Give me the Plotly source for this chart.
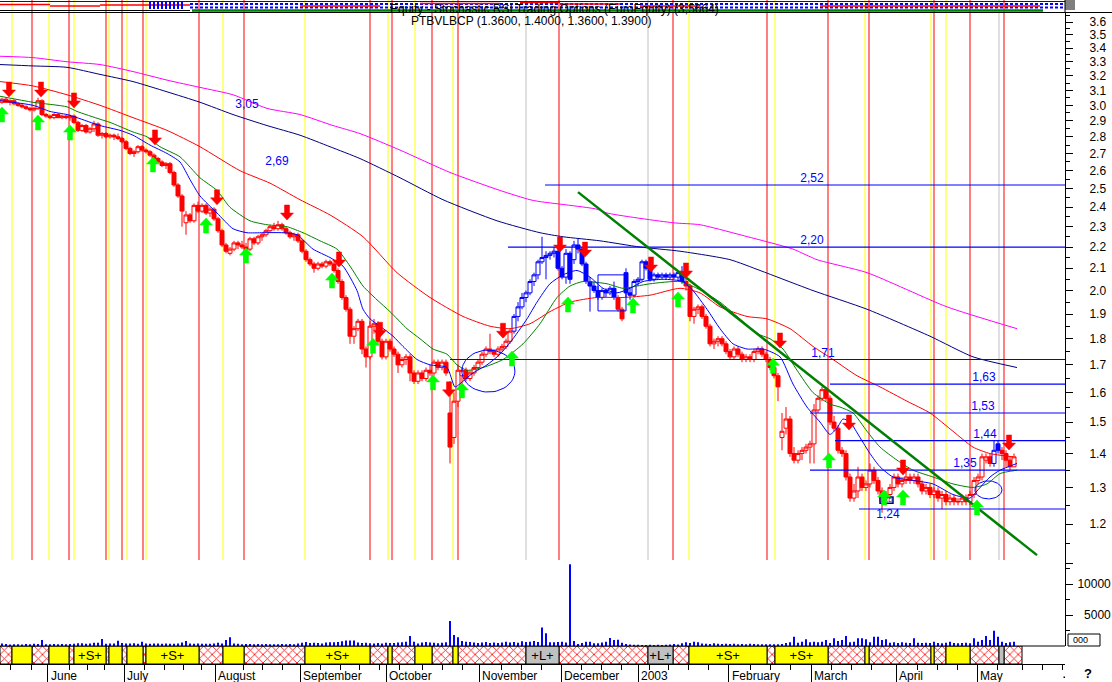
import math
import plotly.graph_objects as go

# ---------------------------------------------------------------- data
# daily candles, PTBVLBCP, mid-May 2002 .. mid-May 2003 (index = trading day)
open_ = [
    3.02, 3.04, 3.02, 3.03, 3.01, 3.00, 2.99, 2.98, 2.97, 2.98,
    3.03, 2.94, 2.93, 2.92, 2.94, 2.92, 2.93, 2.92, 2.93, 2.89,
    2.84, 2.87, 2.83, 2.85, 2.88, 2.81, 2.82, 2.80, 2.81, 2.80,
    2.79, 2.77, 2.73, 2.70, 2.71, 2.74, 2.72, 2.71, 2.69, 2.67,
    2.65, 2.63, 2.64, 2.59, 2.52, 2.46, 2.32, 2.36, 2.33, 2.41,
    2.38, 2.41, 2.37, 2.39, 2.34, 2.28, 2.21, 2.17, 2.19, 2.22,
    2.21, 2.20, 2.19, 2.24, 2.22, 2.25, 2.26, 2.28, 2.30, 2.29,
    2.31, 2.29, 2.27, 2.25, 2.26, 2.23, 2.18, 2.14, 2.12, 2.10,
    2.12, 2.11, 2.13, 2.12, 2.09, 2.04, 1.97, 1.92, 1.81, 1.84,
    1.87, 1.76, 1.73, 1.85, 1.86, 1.79, 1.73, 1.79, 1.76, 1.74,
    1.70, 1.72, 1.73, 1.67, 1.64, 1.67, 1.65, 1.68, 1.67, 1.71,
    1.69, 1.71, 1.53, 1.45, 1.57, 1.66, 1.68, 1.65, 1.67, 1.69,
    1.71, 1.74, 1.76, 1.75, 1.74, 1.76, 1.77, 1.79, 1.83, 1.89,
    1.93, 1.97, 1.99, 2.04, 2.07, 2.13, 2.15, 2.16, 2.17, 2.18,
    2.10, 2.06, 2.17, 2.14, 2.21, 2.19, 2.12, 2.04, 2.02, 2.00,
    1.97, 2.00, 1.99, 2.01, 1.97, 1.92, 2.08, 1.99, 1.98, 2.04,
    2.05, 2.13, 2.10, 2.05, 2.07, 2.06, 2.07, 2.06, 2.07, 2.06,
    2.08, 2.04, 2.02, 1.89, 1.92, 1.93, 1.89, 1.85, 1.78, 1.79,
    1.80, 1.78, 1.75, 1.73, 1.76, 1.74, 1.72, 1.73, 1.72, 1.75,
    1.76, 1.74, 1.72, 1.69, 1.66, 1.45, 1.48, 1.51, 1.40, 1.38,
    1.40, 1.41, 1.42, 1.43, 1.54, 1.58, 1.61, 1.58, 1.50, 1.48,
    1.41, 1.40, 1.33, 1.27, 1.29, 1.33, 1.30, 1.31, 1.35, 1.32,
    1.29, 1.26, 1.28, 1.30, 1.33, 1.31, 1.32, 1.33, 1.32, 1.33,
    1.31, 1.29, 1.30, 1.28, 1.29, 1.27, 1.28, 1.26, 1.27, 1.26,
    1.26, 1.27, 1.26, 1.28, 1.32, 1.33, 1.38, 1.39, 1.37, 1.43,
    1.41, 1.40, 1.38, 1.36,
]
high = [
    3.05, 3.05, 3.04, 3.04, 3.02, 3.01, 3.00, 2.99, 2.99, 3.05,
    3.04, 2.95, 2.94, 2.95, 2.95, 2.94, 2.94, 2.94, 2.94, 2.90,
    2.88, 2.88, 2.86, 2.90, 2.89, 2.83, 2.83, 2.82, 2.82, 2.82,
    2.80, 2.78, 2.74, 2.72, 2.75, 2.75, 2.73, 2.72, 2.70, 2.68,
    2.66, 2.65, 2.65, 2.60, 2.53, 2.47, 2.38, 2.37, 2.42, 2.43,
    2.42, 2.42, 2.40, 2.40, 2.35, 2.29, 2.22, 2.20, 2.23, 2.23,
    2.23, 2.22, 2.25, 2.25, 2.26, 2.27, 2.29, 2.31, 2.32, 2.33,
    2.32, 2.30, 2.28, 2.27, 2.27, 2.24, 2.19, 2.15, 2.13, 2.13,
    2.13, 2.14, 2.14, 2.13, 2.10, 2.05, 1.98, 1.93, 1.85, 1.88,
    1.88, 1.77, 1.87, 1.88, 1.87, 1.80, 1.80, 1.80, 1.77, 1.75,
    1.73, 1.74, 1.74, 1.68, 1.68, 1.68, 1.69, 1.70, 1.72, 1.72,
    1.72, 1.72, 1.64, 1.60, 1.70, 1.69, 1.69, 1.68, 1.70, 1.72,
    1.75, 1.77, 1.82, 1.76, 1.77, 1.78, 1.80, 1.84, 1.90, 1.95,
    1.99, 2.00, 2.05, 2.08, 2.14, 2.25, 2.18, 2.18, 2.20, 2.19,
    2.11, 2.19, 2.18, 2.23, 2.24, 2.20, 2.13, 2.06, 2.04, 2.02,
    2.01, 2.01, 2.02, 2.04, 1.98, 1.93, 2.10, 2.01, 2.05, 2.06,
    2.14, 2.14, 2.11, 2.08, 2.08, 2.08, 2.08, 2.08, 2.08, 2.09,
    2.11, 2.06, 2.03, 1.93, 1.94, 1.94, 1.90, 1.86, 1.80, 1.81,
    1.81, 1.79, 1.76, 1.77, 1.77, 1.75, 1.74, 1.74, 1.76, 1.77,
    1.77, 1.75, 1.73, 1.70, 1.67, 1.53, 1.55, 1.52, 1.42, 1.41,
    1.42, 1.43, 1.44, 1.56, 1.59, 1.62, 1.62, 1.59, 1.52, 1.49,
    1.42, 1.41, 1.34, 1.31, 1.36, 1.34, 1.32, 1.37, 1.36, 1.33,
    1.30, 1.29, 1.31, 1.34, 1.34, 1.33, 1.35, 1.34, 1.34, 1.34,
    1.32, 1.31, 1.31, 1.30, 1.30, 1.29, 1.29, 1.28, 1.28, 1.27,
    1.28, 1.28, 1.29, 1.33, 1.34, 1.40, 1.40, 1.40, 1.44, 1.44,
    1.42, 1.41, 1.39, 1.40,
]
low = [
    3.01, 3.02, 3.00, 3.00, 2.99, 2.98, 2.97, 2.96, 2.96, 2.97,
    2.93, 2.92, 2.91, 2.91, 2.92, 2.91, 2.91, 2.90, 2.88, 2.83,
    2.83, 2.82, 2.82, 2.83, 2.80, 2.79, 2.79, 2.79, 2.78, 2.78,
    2.76, 2.72, 2.69, 2.68, 2.70, 2.71, 2.70, 2.68, 2.66, 2.64,
    2.62, 2.61, 2.58, 2.51, 2.45, 2.30, 2.26, 2.32, 2.32, 2.37,
    2.37, 2.36, 2.35, 2.33, 2.27, 2.20, 2.17, 2.16, 2.18, 2.19,
    2.19, 2.17, 2.18, 2.21, 2.21, 2.23, 2.25, 2.27, 2.28, 2.28,
    2.28, 2.26, 2.24, 2.23, 2.22, 2.17, 2.13, 2.11, 2.08, 2.09,
    2.10, 2.10, 2.11, 2.08, 2.03, 1.96, 1.91, 1.78, 1.78, 1.83,
    1.74, 1.69, 1.72, 1.82, 1.78, 1.72, 1.72, 1.75, 1.73, 1.67,
    1.69, 1.70, 1.64, 1.63, 1.63, 1.64, 1.64, 1.66, 1.66, 1.68,
    1.68, 1.66, 1.37, 1.43, 1.55, 1.63, 1.64, 1.64, 1.66, 1.68,
    1.70, 1.73, 1.74, 1.73, 1.73, 1.75, 1.76, 1.78, 1.82, 1.87,
    1.92, 1.95, 1.98, 2.02, 2.05, 2.12, 2.05, 2.14, 2.15, 2.09,
    2.05, 2.03, 2.03, 2.12, 2.17, 2.11, 2.03, 1.91, 1.99, 1.96,
    1.96, 1.97, 1.98, 1.96, 1.91, 1.87, 1.97, 1.96, 1.97, 2.02,
    2.04, 2.09, 2.04, 2.04, 2.05, 2.05, 2.05, 2.05, 2.05, 2.04,
    2.03, 2.00, 1.87, 1.86, 1.90, 1.88, 1.84, 1.77, 1.76, 1.77,
    1.77, 1.74, 1.72, 1.72, 1.73, 1.71, 1.71, 1.71, 1.71, 1.74,
    1.73, 1.71, 1.68, 1.65, 1.57, 1.41, 1.46, 1.39, 1.37, 1.37,
    1.38, 1.40, 1.37, 1.37, 1.53, 1.57, 1.57, 1.49, 1.47, 1.40,
    1.39, 1.32, 1.26, 1.26, 1.27, 1.29, 1.29, 1.30, 1.31, 1.28,
    1.23, 1.25, 1.27, 1.29, 1.30, 1.30, 1.31, 1.31, 1.31, 1.30,
    1.28, 1.28, 1.27, 1.27, 1.26, 1.24, 1.25, 1.25, 1.25, 1.25,
    1.25, 1.25, 1.25, 1.27, 1.31, 1.32, 1.37, 1.36, 1.36, 1.40,
    1.38, 1.36, 1.35, 1.36,
]
close = [
    3.04, 3.02, 3.03, 3.01, 3.00, 2.99, 2.98, 2.97, 2.98, 3.03,
    2.94, 2.93, 2.92, 2.94, 2.92, 2.93, 2.92, 2.93, 2.89, 2.84,
    2.87, 2.83, 2.85, 2.88, 2.81, 2.82, 2.80, 2.81, 2.80, 2.79,
    2.77, 2.73, 2.70, 2.71, 2.74, 2.72, 2.71, 2.69, 2.67, 2.65,
    2.63, 2.64, 2.59, 2.52, 2.46, 2.38, 2.36, 2.33, 2.41, 2.38,
    2.41, 2.37, 2.39, 2.34, 2.28, 2.21, 2.18, 2.19, 2.22, 2.21,
    2.20, 2.19, 2.24, 2.22, 2.25, 2.26, 2.28, 2.30, 2.29, 2.31,
    2.29, 2.27, 2.25, 2.26, 2.23, 2.18, 2.14, 2.12, 2.10, 2.12,
    2.11, 2.13, 2.12, 2.09, 2.04, 1.97, 1.92, 1.81, 1.84, 1.87,
    1.76, 1.73, 1.85, 1.86, 1.79, 1.73, 1.79, 1.76, 1.74, 1.70,
    1.72, 1.73, 1.67, 1.64, 1.67, 1.65, 1.68, 1.67, 1.71, 1.69,
    1.71, 1.67, 1.42, 1.57, 1.68, 1.68, 1.65, 1.67, 1.69, 1.71,
    1.74, 1.76, 1.75, 1.74, 1.76, 1.77, 1.79, 1.83, 1.89, 1.93,
    1.97, 1.99, 2.04, 2.07, 2.13, 2.15, 2.16, 2.17, 2.18, 2.10,
    2.06, 2.17, 2.05, 2.21, 2.19, 2.12, 2.04, 2.02, 2.00, 1.97,
    2.00, 1.99, 2.01, 1.97, 1.92, 1.88, 1.99, 1.98, 2.04, 2.05,
    2.13, 2.10, 2.05, 2.07, 2.06, 2.07, 2.06, 2.07, 2.06, 2.08,
    2.04, 2.02, 1.89, 1.92, 1.93, 1.89, 1.85, 1.78, 1.79, 1.80,
    1.78, 1.75, 1.73, 1.76, 1.74, 1.72, 1.73, 1.72, 1.75, 1.76,
    1.74, 1.72, 1.69, 1.66, 1.62, 1.47, 1.51, 1.40, 1.38, 1.40,
    1.41, 1.42, 1.43, 1.54, 1.58, 1.61, 1.58, 1.50, 1.48, 1.41,
    1.40, 1.33, 1.27, 1.29, 1.33, 1.30, 1.31, 1.35, 1.32, 1.29,
    1.26, 1.28, 1.30, 1.33, 1.31, 1.32, 1.33, 1.32, 1.33, 1.31,
    1.29, 1.30, 1.28, 1.29, 1.27, 1.28, 1.26, 1.27, 1.26, 1.26,
    1.27, 1.26, 1.28, 1.32, 1.33, 1.39, 1.39, 1.37, 1.41, 1.41,
    1.40, 1.38, 1.36, 1.39,
]
volume = [
    400, 320, 250, 300, 280, 260, 330, 300, 350, 320,
    970, 300, 280, 320, 300, 340, 300, 320, 380, 430,
    430, 380, 400, 540, 520, 1130, 380, 400, 400, 860,
    500, 420, 400, 450, 380, 700, 420, 380, 400, 420,
    380, 400, 350, 380, 420, 560, 800, 400, 380, 420,
    380, 350, 380, 400, 520, 420, 970, 1400, 420, 380,
    300, 320, 320, 300, 320, 300, 320, 300, 280, 300,
    320, 300, 320, 300, 420, 540, 640, 500, 520, 480,
    420, 560, 620, 600, 640, 750, 900, 880, 900, 560,
    480, 520, 450, 420, 500, 400, 520, 480, 480, 560,
    600, 700, 1610, 700, 420, 560, 640, 560, 520, 450,
    520, 600, 4030, 1770, 1400, 800, 700, 640, 560, 500,
    560, 640, 500, 560, 480, 560, 700, 560, 640, 520,
    750, 640, 700, 800, 640, 3000, 2040, 590, 590, 640,
    700, 560, 13200, 800, 320, 480, 700, 700, 430, 430,
    560, 700, 1290, 970, 1020, 540, 320, 250, 200, 200,
    160, 160, 200, 160, 200, 160, 200, 250, 320, 250,
    430, 590, 480, 700, 590, 420, 380, 320, 430, 380,
    320, 380, 320, 380, 300, 320, 300, 380, 320, 300,
    300, 270, 270, 300, 270, 320, 480, 590, 1500, 540,
    700, 1070, 590, 700, 590, 700, 970, 480, 1230, 800,
    970, 1610, 590, 700, 1230, 1230, 1070, 590, 1500, 1500,
    970, 1070, 540, 590, 480, 590, 540, 480, 1230, 540,
    480, 540, 480, 700, 480, 430, 540, 700, 480, 430,
    480, 540, 430, 1230, 700, 970, 1610, 970, 2470, 1500,
    700, 480, 590, 700,
]
blue_candle_ranges = [(128, 153), (156, 170), (248, 249)]

# moving averages (trading day, price)
ma_fast_days = [-0.5, 7.75, 12, 16.25, 18.75, 24.5, 29.5, 32.75, 37, 41.25,
                44.5, 47, 49.5, 53.75, 57.75, 61.25, 65.25, 70.25, 73.75, 77.75,
                82, 85.25, 88.75, 90.25, 92, 94.5, 97.75, 100.25, 103.75, 107,
                111.25, 113.25, 115.25, 117.75, 121.25, 124.5, 127.75, 131.25, 133.75, 137,
                140.25, 143.75, 147, 150.25, 153.75, 157, 160.25, 165.25, 170.25, 172.75,
                176.25, 179.5, 182.75, 186.25, 190.25, 194.5, 197.75, 201.25, 204.5, 207,
                208.75, 210.25, 212, 214.5, 217, 219.5, 222.75, 227.75, 232.75, 237.75,
                242, 243.75, 247, 249.5, 253.75]
ma_fast_vals = [3.03, 3.00, 2.96, 2.94, 2.92, 2.87, 2.84, 2.81, 2.75, 2.70,
                2.65, 2.55, 2.46, 2.37, 2.29, 2.27, 2.27, 2.27, 2.26, 2.19,
                2.15, 2.11, 2.00, 1.92, 1.88, 1.85, 1.81, 1.77, 1.72, 1.70,
                1.69, 1.62, 1.64, 1.67, 1.70, 1.74, 1.80, 1.88, 1.95, 2.03,
                2.07, 2.09, 2.06, 2.01, 1.99, 2.01, 2.04, 2.05, 2.04, 2.00,
                1.92, 1.84, 1.78, 1.76, 1.76, 1.73, 1.63, 1.55, 1.50, 1.46,
                1.48, 1.51, 1.50, 1.45, 1.40, 1.36, 1.33, 1.32, 1.31, 1.28,
                1.27, 1.29, 1.33, 1.35, 1.37]
ma_mid_days = [-0.5, 7.75, 16.25, 18.75, 24.5, 27, 32.75, 36.25, 39.5, 44.5,
               49.5, 53.75, 57, 62, 66.25, 71.25, 75.25, 79.5, 83.75, 87,
               90.25, 93.75, 97, 101.25, 104.5, 107.75, 111.25, 113.75, 116.25, 120.25,
               125.25, 130.25, 134.5, 138.75, 142, 145.25, 151.25, 155.25, 158.75, 162,
               169.5, 173.75, 179.5, 184.5, 188.75, 192, 195.25, 198.75, 202.75, 207,
               209.5, 212.75, 216.25, 219.5, 223.75, 227.75, 232.75, 237.75, 242.75, 246.25,
               249.5, 253.75]
ma_mid_vals = [3.06, 3.02, 2.99, 2.96, 2.91, 2.89, 2.83, 2.80, 2.74, 2.68,
               2.56, 2.49, 2.40, 2.33, 2.31, 2.30, 2.27, 2.23, 2.19, 2.11,
               2.02, 1.96, 1.91, 1.84, 1.80, 1.76, 1.74, 1.70, 1.68, 1.69,
               1.72, 1.78, 1.86, 1.97, 2.02, 2.04, 2.03, 2.01, 2.02, 2.03,
               2.04, 2.01, 1.95, 1.88, 1.82, 1.80, 1.76, 1.68, 1.60, 1.56,
               1.55, 1.53, 1.47, 1.42, 1.38, 1.35, 1.33, 1.31, 1.30, 1.31,
               1.34, 1.35]
ma_50_days = [-0.5, 7.75, 16.25, 24.5, 32.75, 41.25, 49.5, 59.5, 67, 74.5,
              82, 90.25, 98.75, 107, 115.25, 122, 127, 132, 137, 142,
              148.75, 155.25, 162, 169.5, 174.5, 179.5, 186.25, 191.25, 197, 202.75,
              207.75, 213.75, 219.5, 226.25, 232, 237.75, 242.75, 247, 252.75]
ma_50_vals = [3.16, 3.13, 3.07, 3.00, 2.92, 2.84, 2.74, 2.60, 2.53, 2.44,
              2.36, 2.25, 2.08, 1.97, 1.89, 1.85, 1.84, 1.86, 1.91, 1.95,
              1.97, 1.97, 1.98, 2.01, 1.99, 1.93, 1.89, 1.88, 1.84, 1.77,
              1.72, 1.66, 1.62, 1.57, 1.53, 1.47, 1.42, 1.40, 1.39]
ma_200_days = [-0.5, 7.75, 16.25, 24.5, 32.75, 41.25, 49.5, 57.75, 66.25, 74.5,
               82, 89.5, 99.5, 110.25, 123.75, 134.5, 140.25, 149.5, 159.5, 169.5,
               182, 189.5, 202.75, 216.25, 232, 242.75, 253.75]
ma_200_vals = [3.28, 3.27, 3.26, 3.21, 3.16, 3.09, 3.02, 2.94, 2.87, 2.81,
               2.74, 2.67, 2.56, 2.44, 2.33, 2.27, 2.25, 2.23, 2.20, 2.18,
               2.14, 2.09, 2.00, 1.92, 1.81, 1.73, 1.69]
ma_250_days = [-0.5, 7.75, 16.25, 24.5, 32.75, 41.25, 49.5, 57.75, 66.25, 74.5,
               82.75, 89.5, 99.5, 112, 124.5, 132, 134.5, 148.75, 151.25, 167.75,
               174.5, 184.5, 197.75, 203.75, 216.25, 236.25, 253.75]
ma_250_vals = [3.34, 3.33, 3.30, 3.28, 3.23, 3.17, 3.12, 3.07, 2.98, 2.94,
               2.87, 2.82, 2.72, 2.59, 2.49, 2.44, 2.43, 2.39, 2.37, 2.32,
               2.31, 2.26, 2.19, 2.14, 2.08, 1.93, 1.84]

# support / resistance levels
levels = [2.52, 2.20, 1.72, 1.63, 1.53, 1.44, 1.35, 1.24]
level_start_days = [135.75, 126.5, 112, 207, 202, 208.25, 202, 214.25]
level_labels = ["2,52", "2,20", "1,71", "1,63", "1,53", "1,44", "1,35", "1,24"]
level_label_days = [202.5, 202.5, 205.25, 245.5, 245.25, 245.75, 240.75, 221.5]
free_labels = ["3,05", "2,69"]
free_label_days = [61.25, 68.75]
free_label_prices = [3.00, 2.65]

# down-trend line (two anchor points)
trend_days = [144, 258.75]
trend_prices = [2.481, 1.121]

# buy / sell signal arrows (tip position)
sell_days = [1.75, 9.75, 18, 38.25, 53.75, 71.25, 84.25, 94.5, 111.75, 125.25,
             139.5, 145.75, 162.25, 171, 194.5, 211.75, 225.25, 251.75]
sell_prices = [3.055, 3.055, 2.983, 2.751, 2.413, 2.334, 2.106, 1.806, 1.585, 1.802,
               2.176, 2.152, 2.083, 2.056, 1.764, 1.474, 1.336, 1.411]
buy_days = [0, 9, 17, 37.75, 51, 61, 82.5, 92.75, 107.75, 115,
            127.5, 141.5, 157.75, 169, 192.75, 206.75, 220.5, 225.25, 243.75]
buy_prices = [2.989, 2.937, 2.873, 2.679, 2.344, 2.195, 2.078, 1.802, 1.663, 1.634,
              1.752, 1.972, 1.968, 1.994, 1.725, 1.402, 1.293, 1.293, 1.265]

# drawn figures: consolidation box, ellipses, ex-dividend marker
box_days = [149, 156]
box_prices = [1.913, 2.070]
ellipse_days = [121.6, 246.6]
ellipse_prices = [1.677, 1.293]
exd_days = [219.5, 222.75]
exd_prices = [1.256, 1.273]

# event lines
red_lines = [7.5, 16.75, 26, 30, 35.25, 49.25, 60.5, 92, 97.5, 107.5, 114, 139.25,
             167.75, 191.25, 206.5, 216.75, 233, 242, 250.5]
yellow_lines = [2.5, 11.75, 18, 26.75, 31.25, 36, 55.25, 75.75, 96.5, 103.25, 112.75,
                171.75, 193.25, 215.75, 232.25, 236]
gray_lines = [131, 161.5, 249.25]

# status band
band_starts = [-0.5, 2.5, 7.5, 11.75, 16.75, 18, 26, 26.75, 30, 31.25,
               35.25, 36, 49.25, 55.25, 60.5, 75.75, 92, 96.5, 97.5, 103.25,
               107.5, 112.75, 114, 131, 139.25, 161.5, 167.75, 171.75, 191.25, 193.25,
               206.5, 215.75, 216.75, 232.25, 233, 236, 242, 249.25, 250.5]
band_end = 255
band_kinds = ["H", "Y", "H", "Y", "H", "Y", "H", "Y", "H", "Y",
              "H", "Y", "H", "Y", "H", "Y", "H", "Y", "H", "Y",
              "H", "Y", "H", "G", "H", "G", "H", "Y", "H", "Y",
              "H", "Y", "H", "Y", "H", "Y", "H", "G", "H"]
band_texts = ["", "", "", "", "", "+S+", "", "", "", "",
              "", "+S+", "", "", "", "+S+", "", "", "", "",
              "", "", "", "+L+", "", "+L+", "", "+S+", "", "+S+",
              "", "", "", "", "", "", "", "", ""]

# time axis
month_days = [11.375, 30.5, 53.25, 74.5, 96, 119.25, 139.75, 159.1, 181.65, 202.25, 223.5, 243.75]
month_labels = ["June", "July", "August", "September", "October", "November",
                "December", "2003", "February", "March", "April", "May"]
week_days = [2.2, 7.25, 16.75, 21.4, 25.5, 35.5, 40.5, 45.25, 49.75, 60.25, 65.1, 70,
             79.5, 84.5, 89.25, 94.25, 99.25, 105.1, 110, 115, 124.75, 129.75, 134.75,
             144.75, 149.75, 154.75, 161.75, 166.5, 171.6, 176.6, 187, 192, 197, 207.25,
             212.25, 217.25, 228.75, 233.75, 238.75, 248.9, 255.2, 260.2, 265.2]
price_ticks = [1.1, 1.2, 1.3, 1.4, 1.5, 1.6, 1.7, 1.8, 1.9, 2.0, 2.1, 2.2, 2.3, 2.4,
               2.5, 2.6, 2.7, 2.8, 2.9, 3.0, 3.1, 3.2, 3.3, 3.4, 3.5, 3.6]
price_tick_text = ["", "1.2", "1.3", "1.4", "1.5", "1.6", "1.7", "1.8", "1.9", "2.0",
                   "2.1", "2.2", "2.3", "2.4", "2.5", "2.6", "2.7", "2.8", "2.9", "3.0",
                   "3.1", "3.2", "3.3", "3.4", "3.5", "3.6"]
volume_ticks = [5000, 10000]
volume_tick_text = ["\u20075000", "10000"]

# ---------------------------------------------------------------- geometry
W, H, PLOT_W = 1112, 682, 1065
DPX = 4.0                          # screen pixels per trading day
K = math.log10(3.0) / 502.0        # price-axis log10 units per pixel
Y36 = 22                           # pixel row of the 3.6 tick
PRICE_TOP, BAND_TOP, BAND_BOT, VOL_TOP = 12, 646, 664, 560
VOL_PER_PX = 10000 / 62.0


def fy(p):
    return 1 - p / H


def fx(p):
    return p / PLOT_W


X_RANGE = [-0.5, (PLOT_W - 2) / DPX]
PRICE_RANGE = [math.log10(3.6) - (BAND_TOP - Y36) * K, math.log10(3.6) + (Y36 - PRICE_TOP) * K]
FONT = "Liberation Sans, Arial, sans-serif"
n = len(close)
days = list(range(n))

fig = go.Figure()

# volume
fig.add_trace(go.Bar(x=days, y=volume, width=0.5, xaxis="x", yaxis="y2",
                     marker=dict(color="#0000ff", line=dict(width=0)), hoverinfo="skip"))

# status band
band_ends = band_starts[1:] + [band_end]
styles = {
    "H": dict(color="white", pattern=dict(shape="x", fgcolor="#ff0000", bgcolor="white",
                                          size=6, solidity=0.25, fillmode="replace")),
    "Y": dict(color="#ffff00"),
    "G": dict(color="#c0c0c0"),
}
for kind in ("H", "Y", "G"):
    idx = [i for i, k in enumerate(band_kinds) if k == kind]
    m = dict(styles[kind])
    m["line"] = dict(color="black", width=1)
    fig.add_trace(go.Bar(
        orientation="h", y=[0] * len(idx), width=1,
        base=[band_starts[i] for i in idx],
        x=[band_ends[i] - band_starts[i] for i in idx],
        text=[band_texts[i] for i in idx], textposition="inside",
        insidetextanchor="middle", textangle=0, constraintext="none",
        textfont=dict(family=FONT, size=13, color="black"),
        marker=m, xaxis="x", yaxis="y3", hoverinfo="skip"))

# candles


def is_blue(i):
    return any(a <= i <= b for a, b in blue_candle_ranges)


for col, idx in (("#ff0000", [i for i in days if not is_blue(i)]),
                 ("#0000ff", [i for i in days if is_blue(i)])):
    fig.add_trace(go.Candlestick(
        x=idx, open=[open_[i] for i in idx], high=[high[i] for i in idx],
        low=[low[i] for i in idx], close=[close[i] for i in idx],
        increasing=dict(line=dict(color=col, width=1), fillcolor="white"),
        decreasing=dict(line=dict(color=col, width=1), fillcolor=col),
        whiskerwidth=0, xaxis="x", yaxis="y", hoverinfo="skip"))

# moving averages
for d, v, c in ((ma_250_days, ma_250_vals, "#ff00ff"), (ma_200_days, ma_200_vals, "#000080"),
                (ma_50_days, ma_50_vals, "#ff0000"), (ma_mid_days, ma_mid_vals, "#008000"),
                (ma_fast_days, ma_fast_vals, "#0000ff")):
    fig.add_trace(go.Scatter(x=d, y=v, mode="lines",
                             line=dict(color=c, width=1, shape="spline", smoothing=0.6),
                             xaxis="x", yaxis="y", hoverinfo="skip"))

# levels (each drawn as its own polyline, a few points along the row)
for lv, st in zip(levels, level_start_days):
    xs = [st, (st + X_RANGE[1]) / 2, X_RANGE[1]]
    fig.add_trace(go.Scatter(x=xs, y=[lv] * 3, mode="lines",
                             line=dict(color="#0000ff", width=1.2),
                             xaxis="x", yaxis="y", hoverinfo="skip"))
fig.add_trace(go.Scatter(x=level_label_days, y=levels, mode="text", text=level_labels,
                         textposition=["top center"] * 7 + ["bottom center"],
                         textfont=dict(family=FONT, size=12, color="#0000ff"),
                         xaxis="x", yaxis="y", hoverinfo="skip"))
fig.add_trace(go.Scatter(x=free_label_days, y=free_label_prices, mode="text", text=free_labels,
                         textposition="middle center",
                         textfont=dict(family=FONT, size=12, color="#0000ff"),
                         xaxis="x", yaxis="y", hoverinfo="skip"))

# trend line
fig.add_trace(go.Scatter(x=trend_days, y=trend_prices, mode="lines",
                         line=dict(color="#008000", width=2.5), xaxis="x", yaxis="y", hoverinfo="skip"))

# consolidation box
fig.add_trace(go.Scatter(x=[box_days[0], box_days[1], box_days[1], box_days[0], box_days[0]],
                         y=[box_prices[1], box_prices[1], box_prices[0], box_prices[0], box_prices[1]],
                         mode="lines", line=dict(color="#0000ff", width=1), xaxis="x", yaxis="y",
                         hoverinfo="skip"))

# ellipses (radii in screen pixels)
ell_radii = [(26.5, 21), (13.5, 9)]
for (cd, cp), (rx, ry) in zip(zip(ellipse_days, ellipse_prices), ell_radii):
    ex, ey = [], []
    for t in range(0, 361, 6):
        a = math.radians(t)
        ex.append(cd + rx * math.cos(a) / DPX)
        ey.append(cp * 10 ** (ry * K * math.sin(a)))
    fig.add_trace(go.Scatter(x=ex, y=ey, mode="lines", line=dict(color="#0000ff", width=1),
                             xaxis="x", yaxis="y", hoverinfo="skip"))

# ex-dividend marker
fig.add_trace(go.Scatter(x=[exd_days[0], exd_days[1], exd_days[1], exd_days[0], exd_days[0]],
                         y=[exd_prices[1], exd_prices[1], exd_prices[0], exd_prices[0], exd_prices[1]],
                         mode="lines", fill="toself", fillcolor="white",
                         line=dict(color="#000080", width=1.5), xaxis="x", yaxis="y", hoverinfo="skip"))
fig.add_trace(go.Scatter(x=[(exd_days[0] + exd_days[1]) / 2], y=[(exd_prices[0] * exd_prices[1]) ** 0.5],
                         mode="text", text=["EXD"], textfont=dict(family=FONT, size=6, color="#000080"),
                         xaxis="x", yaxis="y", hoverinfo="skip"))

# arrows
ARROW = [(0, 0), (-6.5, 7), (-2.5, 7), (-2.5, 15), (2.5, 15), (2.5, 7), (6.5, 7), (0, 0)]


def arrow_path(ds, ps, sign):
    xs, ys = [], []
    for d, p in zip(ds, ps):
        for dx, dy in ARROW:
            xs.append(d + dx / DPX)
            ys.append(p * 10 ** (sign * dy * K))
        xs.append(None)
        ys.append(None)
    return xs, ys


for ds, ps, sign, col in ((sell_days, sell_prices, 1, "#ff0000"), (buy_days, buy_prices, -1, "#00ff00")):
    ax_, ay_ = arrow_path(ds, ps, sign)
    fig.add_trace(go.Scatter(x=ax_, y=ay_, mode="lines", fill="toself", fillcolor=col,
                             line=dict(color=col, width=0.5), xaxis="x", yaxis="y", hoverinfo="skip"))

# ---------------------------------------------------------------- shapes
shapes = []
for lst, col in ((yellow_lines, "#ffff00"), (gray_lines, "#c0c0c0"), (red_lines, "#ff0000")):
    for d in lst:
        shapes.append(dict(type="line", xref="x", yref="paper", x0=d, x1=d, y0=fy(BAND_TOP), y1=1,
                           line=dict(color=col, width=1), layer="below"))


def hline(x0, x1, y, col, w=1, dash=None):
    ln = dict(color=col, width=w)
    if dash:
        ln["dash"] = dash
    shapes.append(dict(type="line", xref="paper", yref="paper", x0=fx(x0), x1=fx(x1),
                       y0=fy(y), y1=fy(y), line=ln))


def vline(x, y0, y1, col, w=1):
    shapes.append(dict(type="line", xref="paper", yref="paper", x0=fx(x), x1=fx(x),
                       y0=fy(y0), y1=fy(y1), line=dict(color=col, width=w)))


# header strip
hline(0, PLOT_W, 1.5, "#0000ff", 1)
hline(0, 50, 4.5, "#ff0000", 1.5)
hline(50, 100, 6, "#ff0000", 1.5)
hline(100, 190, 5, "#ff0000", 1.5)
hline(190, PLOT_W, 4, "#0000ff", 2, "3px,2px")
hline(190, PLOT_W, 7.5, "#0000ff", 2, "3px,2px")
for a, b, y in ((300, 380, 6), (420, 500, 3.5), (520, 560, 2.5), (560, 620, 4), (640, 700, 6),
                (820, 1040, 6)):
    hline(a, b, y, "#ff0000", 1.5)
for x in (150, 154, 158, 162, 166, 170, 174, 178, 182):
    vline(x, 1, 9, "#0000ff", 2)
hline(0, 190, 10.5, "black", 1)
hline(192, 1043, 10.5, "#008000", 2.5)
hline(0, W, 12.5, "black", 1)
vline(PLOT_W, 0, PRICE_TOP, "black", 1)
for y in (1, 3, 5, 7, 9):
    hline(PLOT_W, PLOT_W + 10, y, "black", 1)
# volume / band separator
hline(0, PLOT_W, BAND_TOP, "black", 1)
# unit box and the small dot at the end of the time axis
shapes.append(dict(type="rect", xref="paper", yref="paper", x0=fx(1068), x1=fx(1100),
                   y0=fy(646), y1=fy(634), line=dict(color="black", width=1)))
shapes.append(dict(type="rect", xref="paper", yref="paper", x0=fx(1063.5), x1=fx(1065),
                   y0=fy(678), y1=fy(676.5), line=dict(width=0), fillcolor="black"))

# ---------------------------------------------------------------- annotations
ann = []
for d, t in zip(month_days, month_labels):
    ann.append(dict(x=d, xref="x", y=fy(676), yref="paper", text=t, showarrow=False,
                    xanchor="left", yanchor="middle", xshift=1,
                    font=dict(family=FONT, size=12, color="black")))
ann.append(dict(x=fx(531), y=fy(21), xref="paper", yref="paper", showarrow=False,
                text="PTBVLBCP (1.3600, 1.4000, 1.3600, 1.3900)",
                font=dict(family=FONT, size=12, color="black"), xanchor="center", yanchor="middle"))
ann.append(dict(x=fx(388), y=fy(9), xref="paper", yref="paper", showarrow=False,
                text="Equity - Stochastic RSI Trading Options (EuroEquity) (3,5664)",
                font=dict(family=FONT, size=12, color="black"), xanchor="left", yanchor="middle"))
ann.append(dict(x=fx(1071), y=fy(640), xref="paper", yref="paper", showarrow=False, text="000",
                font=dict(family=FONT, size=9, color="black"), xanchor="left", yanchor="middle"))
ann.append(dict(x=fx(1088), y=fy(673), xref="paper", yref="paper", showarrow=False, text="<b>?</b>",
                font=dict(family=FONT, size=13, color="black"), xanchor="center", yanchor="middle"))

# ---------------------------------------------------------------- layout
price_minor = [round(t + 0.05, 2) for t in price_ticks]
fig.update_layout(
    width=W, height=H, margin=dict(l=0, r=W - PLOT_W, t=0, b=0, pad=0),
    paper_bgcolor="white", plot_bgcolor="white", showlegend=False,
    barmode="overlay", boxgap=0.0, boxgroupgap=0,
    font=dict(family=FONT, size=12, color="black"),
    shapes=shapes, annotations=ann, hovermode=False, dragmode=False,
    xaxis=dict(domain=[0, 1], range=X_RANGE, anchor="y3", showgrid=False, zeroline=False,
               showline=True, linecolor="black", linewidth=1, mirror=False, showspikes=False,
               ticks="outside", ticklen=18, tickcolor="black", tickwidth=1,
               tickmode="array", tickvals=month_days, showticklabels=False,
               minor=dict(tickmode="array", tickvals=week_days, ticks="outside", ticklen=5,
                          tickcolor="black", tickwidth=1, showgrid=False),
               rangeslider=dict(visible=False), fixedrange=True),
    yaxis=dict(type="log", domain=[fy(BAND_TOP), fy(PRICE_TOP)], range=PRICE_RANGE, side="right",
               anchor="x", showgrid=False, zeroline=False, showline=True, linecolor="black",
               linewidth=1, ticks="outside", ticklen=7, tickcolor="black", tickwidth=1,
               showspikes=False,
               tickmode="array", tickvals=price_ticks, ticktext=price_tick_text,
               ticklabelstandoff=14, tickfont=dict(family=FONT, size=12, color="black"),
               minor=dict(tickmode="array", tickvals=price_minor, ticks="outside", ticklen=4,
                          tickcolor="black", tickwidth=1, showgrid=False),
               fixedrange=True),
    yaxis2=dict(domain=[fy(BAND_TOP), fy(VOL_TOP)], range=[0, (BAND_TOP - VOL_TOP) * VOL_PER_PX],
                side="right", anchor="x", showgrid=False, zeroline=False, showline=True,
                linecolor="black", linewidth=1, ticks="outside", ticklen=7, tickcolor="black",
                showspikes=False,
                tickmode="array", tickvals=volume_ticks, ticktext=volume_tick_text,
                ticklabelstandoff=2, tickfont=dict(family=FONT, size=12, color="black"),
                minor=dict(tickmode="array", tickvals=[2500, 7500, 12500], ticks="outside",
                           ticklen=4, tickcolor="black", showgrid=False),
                fixedrange=True),
    yaxis3=dict(domain=[fy(BAND_BOT), fy(BAND_TOP)], range=[-0.5, 0.5], anchor="x",
                visible=False, fixedrange=True, showspikes=False),
)

fig.write_html("out.html", config={"displayModeBar": False, "staticPlot": True},
               post_script="document.body.style.margin='0';document.body.style.padding='0';")
